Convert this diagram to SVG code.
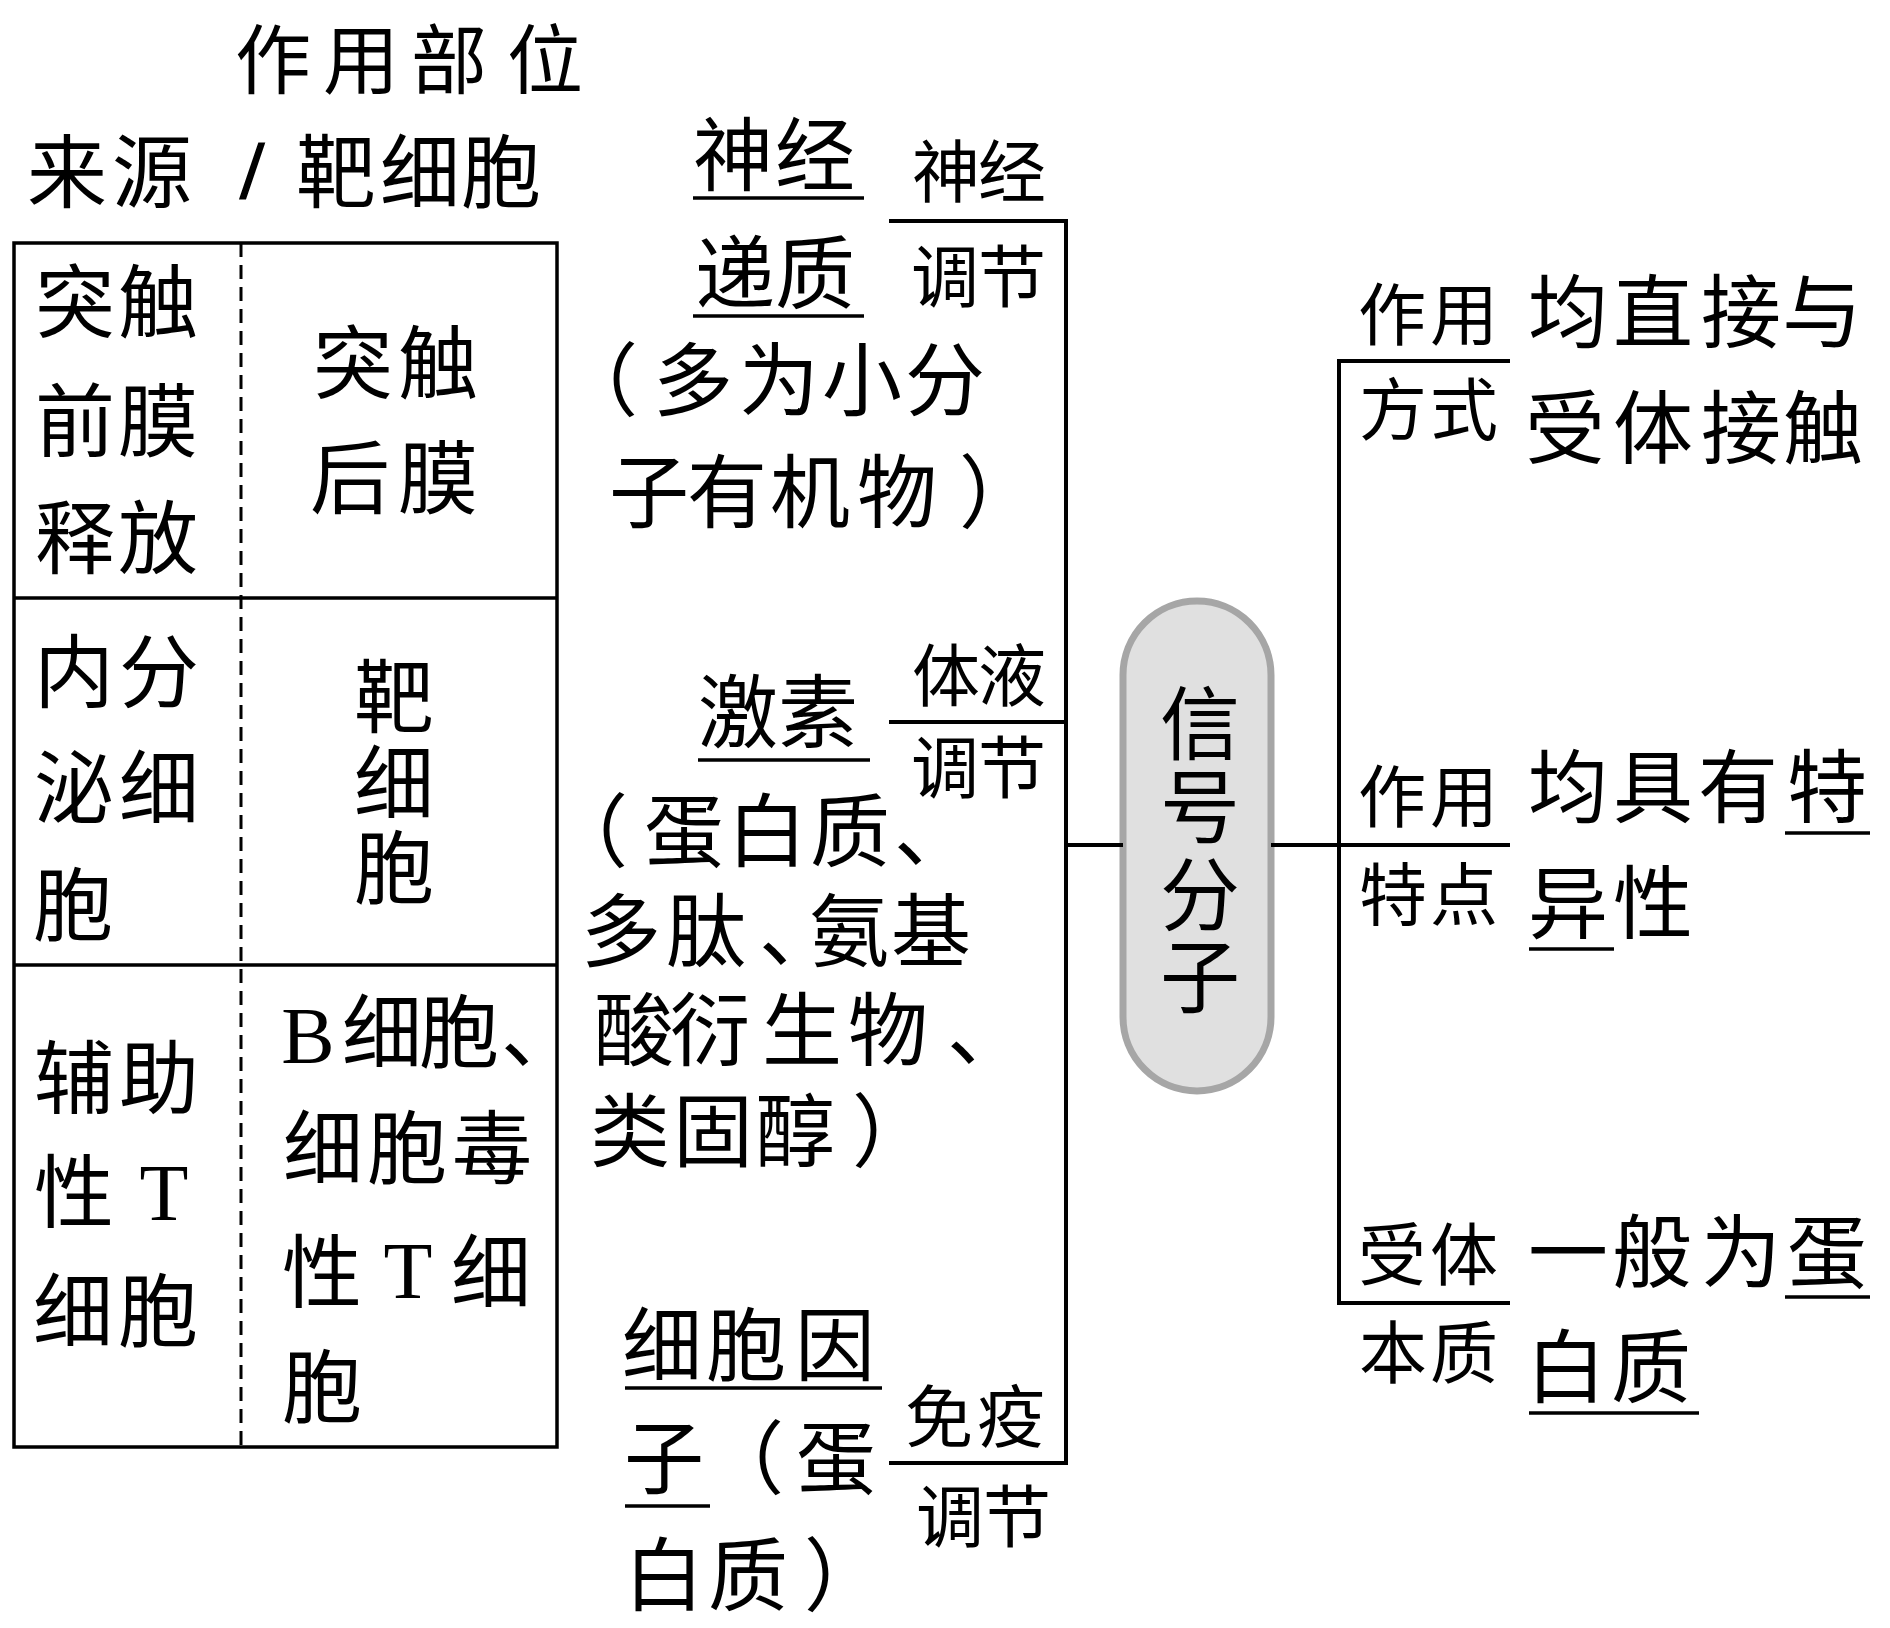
<svg xmlns="http://www.w3.org/2000/svg" width="1890" height="1628" viewBox="0 0 1890 1628">
<style>
text{font-family:"Liberation Serif","Noto Sans CJK SC",sans-serif;fill:#000;text-anchor:middle}
.b{font-size:80px}
.h{font-size:76px}
.s{font-size:68px}
.ln{stroke:#000;stroke-width:4;fill:none}
.tb{stroke:#000;stroke-width:3.5;fill:none}
.ul{stroke:#000;stroke-width:3.5}
.dash{stroke:#000;stroke-width:3;stroke-dasharray:14 8}
.pill{fill:#e0e0e0;stroke:#a6a6a6;stroke-width:7}
</style>
<rect width="1890" height="1628" fill="#fff"/>

<g id="header">
<text class="h" x="273 361 449 545" y="88">作用部位</text>
<text class="b" x="67 152" y="201">来源</text>
<text class="b" x="252" y="197" stroke="#000" stroke-width="3">/</text>
<text class="b" x="336 420 501" y="201">靶细胞</text>
</g>

<g id="table">
<rect class="tb" x="14" y="243" width="543" height="1204"/>
<line class="tb" x1="14" y1="598" x2="557" y2="598"/>
<line class="tb" x1="14" y1="965" x2="557" y2="965"/>
<line class="dash" x1="241" y1="243" x2="241" y2="1447"/>
</g>

<g id="row-synapse">
<text class="b" x="75 158" y="331">突触</text>
<text class="b" x="75 158" y="450">前膜</text>
<text class="b" x="75 158" y="567">释放</text>
<text class="b" x="353 438" y="392">突触</text>
<text class="b" x="350 438" y="507">后膜</text>
</g>

<g id="row-endocrine">
<text class="b" x="74 159" y="701">内分</text>
<text class="b" x="74 159" y="817">泌细</text>
<text class="b" x="73" y="934">胞</text>
<text class="b" x="394" y="726">靶</text>
<text class="b" x="394" y="812">细</text>
<text class="b" x="394" y="897">胞</text>
</g>

<g id="row-immune">
<text class="b" x="74 159" y="1107">辅助</text>
<text class="b" x="74" y="1221">性</text>
<text class="b" x="164" y="1220">T</text>
<text class="b" x="73 158" y="1340">细胞</text>
<text class="b" x="308" y="1063">B</text>
<text class="b" x="382 459 541" y="1061">细胞、</text>
<text class="b" x="323 407 492" y="1177">细胞毒</text>
<text class="b" x="322" y="1301">性</text>
<text class="b" x="408" y="1298">T</text>
<text class="b" x="491" y="1301">细</text>
<text class="b" x="322" y="1416">胞</text>
</g>

<g id="node-neurotransmitter">
<text class="b" x="733 815" y="184">神经</text>
<line class="ul" x1="693" y1="198" x2="864" y2="198"/>
<text class="b" x="735 815" y="302">递质</text>
<line class="ul" x1="693" y1="316" x2="864" y2="316"/>
<text class="b" x="598 693 779 862 945" y="409">（多为小分</text>
<text class="b" x="649 727 810 897 999" y="521">子有机物）</text>
<text class="s" x="946 1012" y="197">神经</text>
<text class="s" x="945 1012" y="302">调节</text>
</g>

<g id="node-hormone">
<text class="s" x="946 1012" y="701">体液</text>
<text class="s" x="945 1012" y="793">调节</text>
<text class="b" x="738 818" y="741">激素</text>
<line class="ul" x1="698" y1="760" x2="870" y2="760"/>
<text class="b" x="588 684 767 850 934" y="860">（蛋白质、</text>
<text class="b" x="621 706 799 849 931" y="960">多肽、氨基</text>
<text class="b" x="634 710 802 888 987" y="1059">酸衍生物、</text>
<text class="b" x="630 713 795 892" y="1160">类固醇）</text>
</g>

<g id="node-cytokine">
<text class="b" x="662 746 835" y="1374">细胞因</text>
<line class="ul" x1="625" y1="1388" x2="882" y2="1388"/>
<text class="b" x="664 744 836" y="1487">子（蛋</text>
<line class="ul" x1="625" y1="1506" x2="710" y2="1506"/>
<text class="b" x="664 748 844" y="1604">白质）</text>
<text class="s" x="939 1011" y="1442">免疫</text>
<text class="s" x="950 1017" y="1542">调节</text>
</g>

<g id="node-signal">
<rect class="pill" x="1123" y="601" width="148" height="490" rx="74" ry="74"/>
<text class="b" x="1200" y="753">信</text>
<text class="b" x="1200" y="836">号</text>
<text class="b" x="1200" y="924">分</text>
<text class="b" x="1200" y="1006">子</text>
</g>

<g id="node-mode">
<text class="s" x="1392 1464" y="340">作用</text>
<text class="s" x="1393 1464" y="435">方式</text>
<text class="b" x="1568 1653 1741 1822" y="341">均直接与</text>
<text class="b" x="1565 1653 1741 1823" y="457">受体接触</text>
</g>

<g id="node-feature">
<text class="s" x="1392 1464" y="822">作用</text>
<text class="s" x="1393 1464" y="920">特点</text>
<text class="b" x="1568 1653 1738 1827" y="816">均具有特</text>
<line class="ul" x1="1785" y1="833" x2="1870" y2="833"/>
<text class="b" x="1568 1653" y="932">异性</text>
<line class="ul" x1="1529" y1="949" x2="1614" y2="949"/>
</g>

<g id="node-receptor">
<text class="s" x="1392 1464" y="1280">受体</text>
<text class="s" x="1393 1464" y="1378">本质</text>
<text class="b" x="1568 1652 1741 1827" y="1281">一般为蛋</text>
<line class="ul" x1="1785" y1="1297" x2="1870" y2="1297"/>
<text class="b" x="1566 1651" y="1396">白质</text>
<line class="ul" x1="1529" y1="1413" x2="1699" y2="1413"/>
</g>

<g id="connectors">
<path class="ln" d="M889,221 H1066 V1463 H889"/>
<path class="ln" d="M889,722 H1066"/>
<path class="ln" d="M1066,845 H1123"/>
<path class="ln" d="M1271,845 H1510"/>
<path class="ln" d="M1510,361 H1339 V1303 H1510"/>
</g>
</svg>
